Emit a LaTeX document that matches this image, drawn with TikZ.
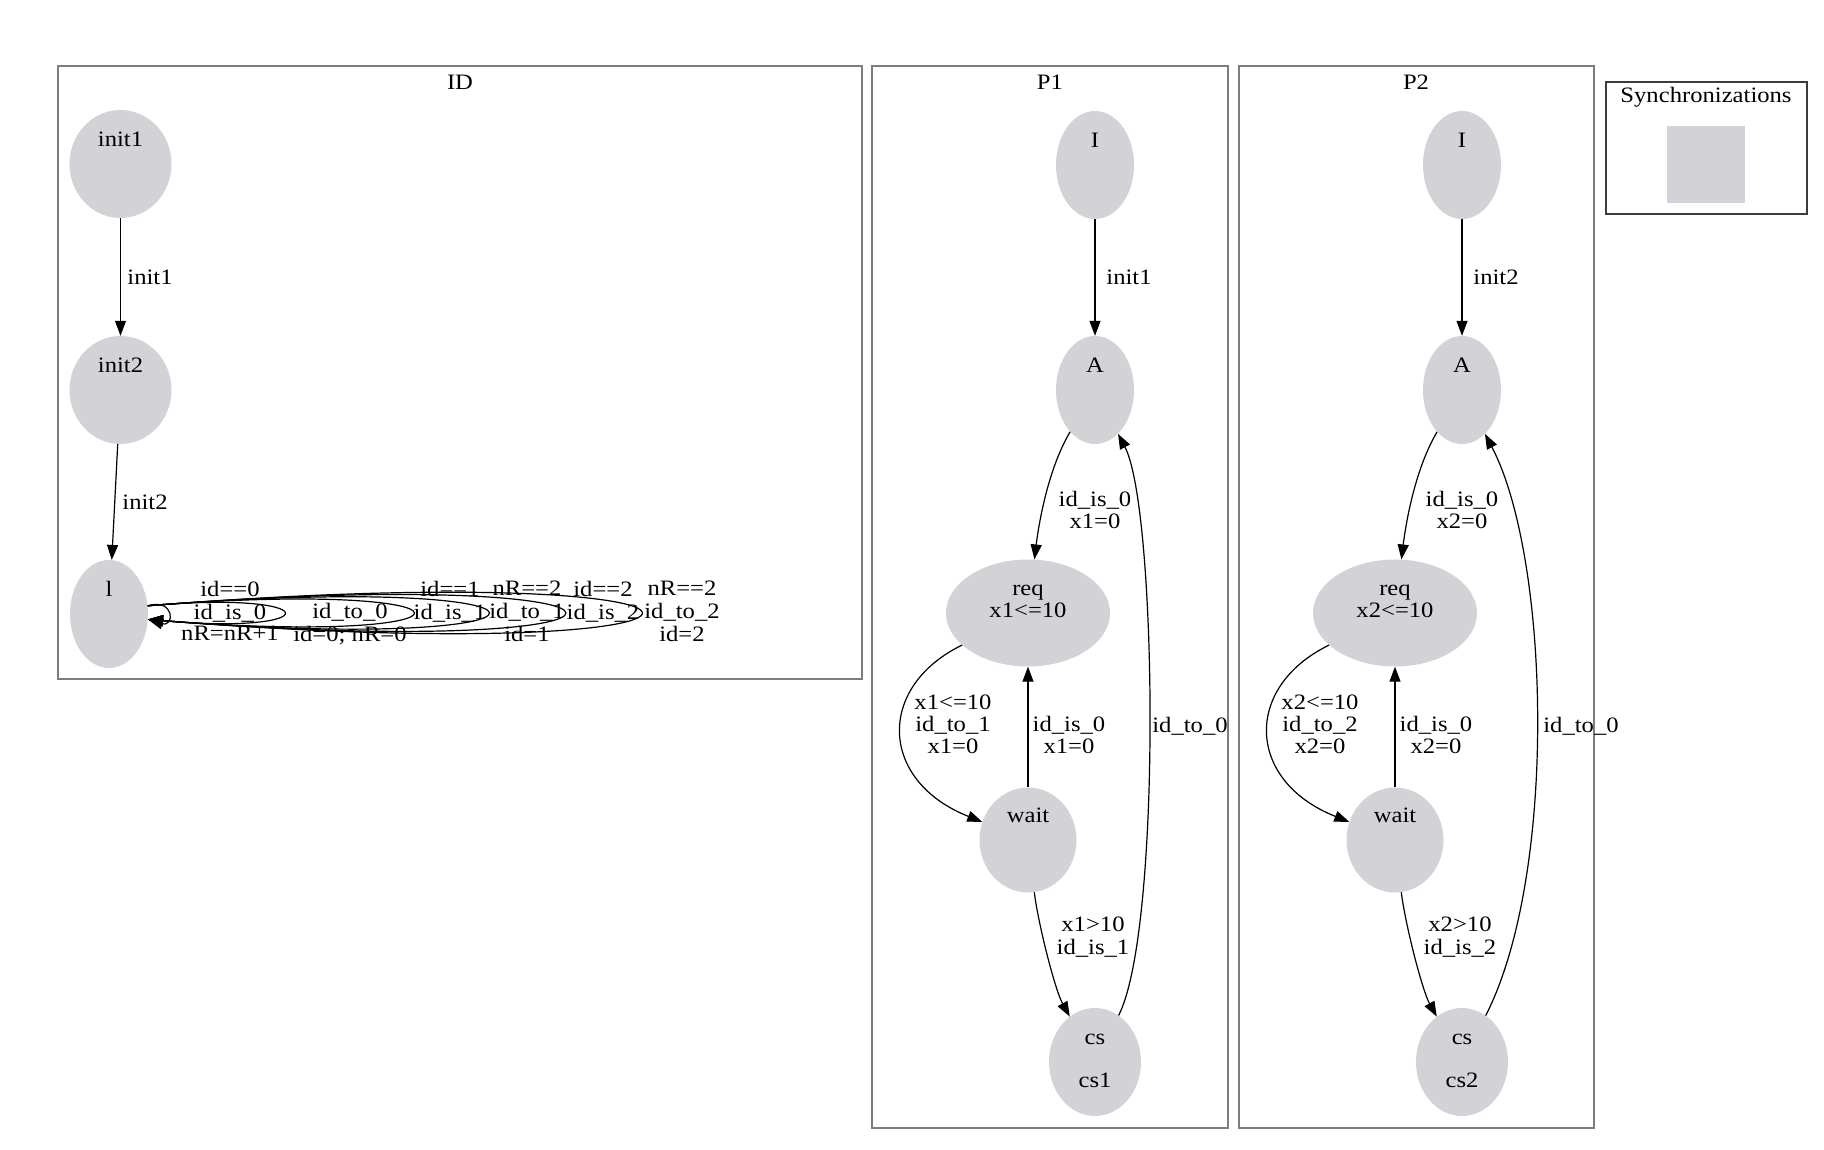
\documentclass[tikz,border=0pt]{standalone}
\usepackage{fontspec}
\setmainfont{Liberation Serif}[FakeStretch=1.12]
\usetikzlibrary{arrows.meta,shapes.geometric}
\definecolor{nodegrey}{RGB}{211,210,214}
\definecolor{clustgrey}{RGB}{125,125,125}
\definecolor{syncgrey}{RGB}{60,60,60}
\newcommand\statetext[2]{\strut#1\\\strut#2\\\strut}
\begin{document}
\begin{tikzpicture}[x=1pt,y=-1pt,
  every node/.style={font=\fontsize{22}{21.5}\selectfont, inner sep=0pt},
  stnode/.style 2 args={ellipse, fill=nodegrey, align=center, minimum width=#1, minimum height=#2},
  lbl/.style={align=center},
  arr/.style={draw=black, line width=1.2pt, -{Triangle[length=15pt,width=11pt]}},
  clust/.style={draw=clustgrey, line width=2.4pt},
]
\fill[white] (0,0) rectangle (1824,1150);
\useasboundingbox (0,0) rectangle (1824,1150);

% clusters
\draw[clust] (58,66) rectangle (862,679);
\draw[clust] (872,66) rectangle (1228,1128);
\draw[clust] (1239,66) rectangle (1594,1128);
\draw[draw=syncgrey, line width=1.8pt] (1606,82) rectangle (1807,214);
\node[fill=nodegrey, minimum width=78pt, minimum height=77pt] (syncsq) at (1706,164.5) {};
\node (tsync) at (1706,97) {Synchronizations};
\node (tID) at (460,82) {ID};
\node (tP1) at (1050,82) {P1};
\node (tP2) at (1416,82) {P2};

% ID
\node[stnode={102pt}{108pt}] (init1) at (120.5,164) {\statetext{init1}{}};
\node[stnode={102pt}{108pt}] (init2) at (120.5,390) {\statetext{init2}{}};
\node[stnode={78pt}{108pt}] (l) at (109,614) {\statetext{l}{}};
\draw[arr] (init1) -- (init2);
\draw[arr] (init2) -- (l);
\node (e1) at (150,277) {init1};
\node (e2) at (145,502) {init2};
\foreach \dx/\d in {27/8, 181/16, 353/28, 453/36, 555/44, 657/52}
  \draw[arr] (l.12) .. controls +(\dx,-\d) and +(\dx,\d) .. (l.-8);
\node[lbl] (s1) at (230,614) {\strut id==0\\\strut id\_is\_0\\\strut nR=nR+1};
\node[lbl] (s2) at (350,614) {\strut\\\strut id\_to\_0\\\strut id=0; nR=0};
\node[lbl] (s3) at (450,614) {\strut id==1\\\strut id\_is\_1\\\strut};
\node[lbl] (s4) at (527,614) {\strut nR==2\\\strut id\_to\_1\\\strut id=1};
\node[lbl] (s5) at (603,614) {\strut id==2\\\strut id\_is\_2\\\strut};
\node[lbl] (s6) at (682,614) {\strut nR==2\\\strut id\_to\_2\\\strut id=2};

% P1
\node[stnode={78pt}{108pt}] (p1I) at (1095,165) {\statetext{I}{}};
\node[stnode={78pt}{108pt}] (p1A) at (1095,390) {\statetext{A}{}};
\node[stnode={164pt}{107pt}] (p1req) at (1028,613) {\statetext{req}{x1<=10}};
\node[stnode={97pt}{105pt}] (p1wait) at (1028,840) {\statetext{wait}{}};
\node[stnode={92pt}{108pt}] (p1cs) at (1095,1062) {\strut cs\\\strut\\\strut cs1};
\draw[arr] (p1I) -- (p1A);
\draw[arr] (p1A) .. controls (1045,474) and (1037,538) .. (p1req);
\draw[arr] (p1req) .. controls (876,687) and (879,781) .. (p1wait);
\draw[arr] (p1wait) -- (p1req);
\draw[arr] (p1wait) .. controls (1038,923) and (1055,990) .. (p1cs);
\draw[arr] (p1cs) .. controls (1162,930) and (1157,508) .. (p1A);
\node (p1e1) at (1129,277) {init1};
\node[lbl] (p1e2) at (1095,513) {\strut id\_is\_0\\\strut x1=0};
\node[lbl] (p1e3) at (953,727) {\strut x1<=10\\\strut id\_to\_1\\\strut x1=0};
\node[lbl] (p1e4) at (1069,738) {\strut id\_is\_0\\\strut x1=0};
\node (p1e5) at (1190,726) {id\_to\_0};
\node[lbl] (p1e6) at (1093,939) {\strut x1>10\\\strut id\_is\_1};

% P2
\node[stnode={78pt}{108pt}] (p2I) at (1462,165) {\statetext{I}{}};
\node[stnode={78pt}{108pt}] (p2A) at (1462,390) {\statetext{A}{}};
\node[stnode={164pt}{107pt}] (p2req) at (1395,613) {\statetext{req}{x2<=10}};
\node[stnode={97pt}{105pt}] (p2wait) at (1395,840) {\statetext{wait}{}};
\node[stnode={92pt}{108pt}] (p2cs) at (1462,1062) {\strut cs\\\strut\\\strut cs2};
\draw[arr] (p2I) -- (p2A);
\draw[arr] (p2A) .. controls (1412,474) and (1404,538) .. (p2req);
\draw[arr] (p2req) .. controls (1243,687) and (1246,781) .. (p2wait);
\draw[arr] (p2wait) -- (p2req);
\draw[arr] (p2wait) .. controls (1405,923) and (1422,990) .. (p2cs);
\draw[arr] (p2cs) .. controls (1558,874) and (1550,558) .. (p2A);
\node (p2e1) at (1496,277) {init2};
\node[lbl] (p2e2) at (1462,513) {\strut id\_is\_0\\\strut x2=0};
\node[lbl] (p2e3) at (1320,727) {\strut x2<=10\\\strut id\_to\_2\\\strut x2=0};
\node[lbl] (p2e4) at (1436,738) {\strut id\_is\_0\\\strut x2=0};
\node (p2e5) at (1581,726) {id\_to\_0};
\node[lbl] (p2e6) at (1460,939) {\strut x2>10\\\strut id\_is\_2};
\end{tikzpicture}
\end{document}
